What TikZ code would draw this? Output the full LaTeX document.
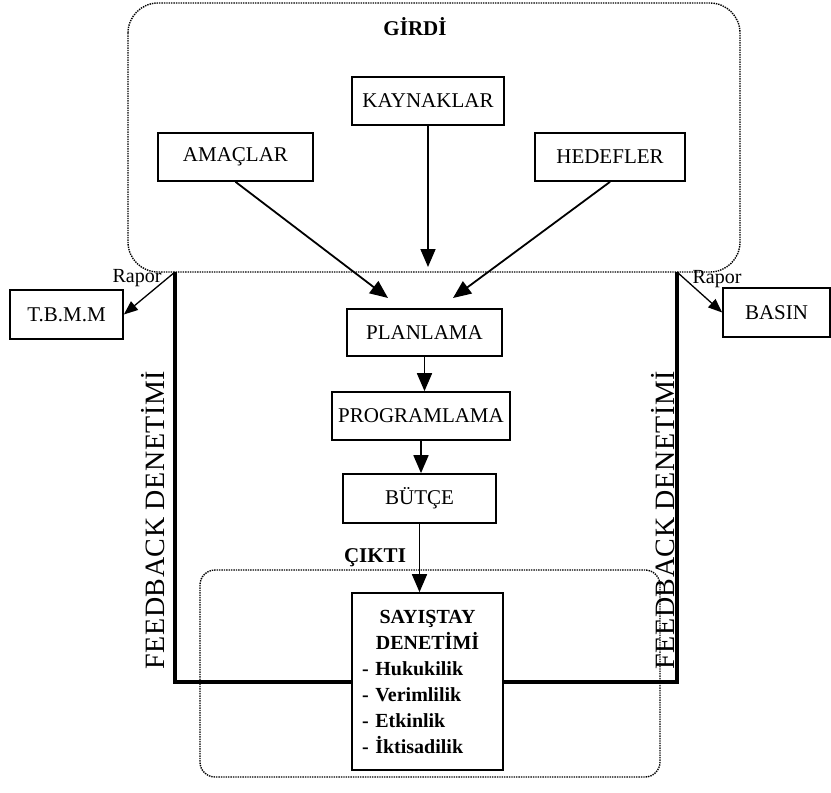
\documentclass[tikz,border=0pt]{standalone}
\usepackage{fontspec}
\setmainfont{Liberation Serif}
\usetikzlibrary{arrows.meta,positioning}

\begin{document}
\begin{tikzpicture}[
x=1pt, y=-1pt,
box/.style={
	draw, rectangle, line width=1.7pt,
	minimum height=48pt, inner sep=2pt,
	font=\fontsize{21}{24}\selectfont
},
zone/.style={draw, densely dotted, line width=1.4pt, rounded corners=#1},
lbl/.style={font=\fontsize{20}{24}\selectfont},
head/.style={font=\fontsize{21}{24}\selectfont\bfseries},
side/.style={rotate=90, font=\fontsize{28}{30}\selectfont\addfontfeature{LetterSpace=2}},
arr/.style={-{Triangle[length=18pt,width=15pt]}, line width=1.8pt},
rap/.style={-{Triangle[length=14pt,width=11pt]}, line width=1.3pt},
feed/.style={line width=4pt}
]
\useasboundingbox (0,0) rectangle (831,793);
\draw[zone=30pt] (128,3) rectangle (740,272);
\draw[zone=15pt] (200,570) rectangle (660,777);
\node[head] (girdi) at (415,27) {GİRDİ};
\node[head] (cikti) at (375,558) {ÇIKTI};
\node[box, minimum width=152pt] (kay) at (428,101) {KAYNAKLAR};
\node[box, minimum width=155pt] (amac) at (235.5,157) {AMAÇLAR};
\node[box, minimum width=150pt] (hedef) at (610,157) {HEDEFLER};
\node[box, minimum width=155pt, minimum height=47pt] (plan) at (424.5,332.5) {PLANLAMA};
\node[box, minimum width=178pt] (prog) at (421,416) {PROGRAMLAMA};
\node[box, minimum width=153pt, minimum height=49pt] (butce) at (419.5,498.5) {BÜTÇE};
\node[box, minimum width=151pt, minimum height=177pt, text width=131pt,
	font=\fontsize{20}{26}\selectfont\bfseries] (say) at (427.5,681.5)
	{\centering SAYIŞTAY\\DENETİMİ\par\raggedright
	- Hukukilik\\- Verimlilik\\- Etkinlik\\- İktisadilik};
\node[box, minimum width=113pt, minimum height=49pt] (tbmm) at (66.5,314.5) {T.B.M.M};
\node[box, minimum width=107pt, minimum height=49pt] (basin) at (776.5,312.5) {BASIN};
\coordinate (fl) at (175,272);
\coordinate (fr) at (677,272);
\coordinate (t1) at (388,298);
\coordinate (t2) at (426,267);
\coordinate (t3) at (453,298);
\draw[arr] (amac.south) -- (t1);
\draw[arr] (kay.south) -- (kay.south |- t2);
\draw[arr] (hedef.south) -- (t3);
\foreach \a/\b in {plan/prog,prog/butce,butce/say}
	\draw[arr] (\a.south) -- (\a.south |- \b.north);
\draw[feed] (fl) |- (say.west);
\draw[feed] (fr) |- (say.east);
\draw[rap] (fl) -- (tbmm.east);
\draw[rap] (fr) -- (basin.west);
\node[lbl] (rap1) at (137,278) {Rapor};
\node[lbl] (rap2) at (717,279) {Rapor};
\node[side] (fb1) at (153,520) {FEEDBACK DENETİMİ};
\node[side] (fb2) at (663,520) {FEEDBACK DENETİMİ};
\end{tikzpicture}
\end{document}
